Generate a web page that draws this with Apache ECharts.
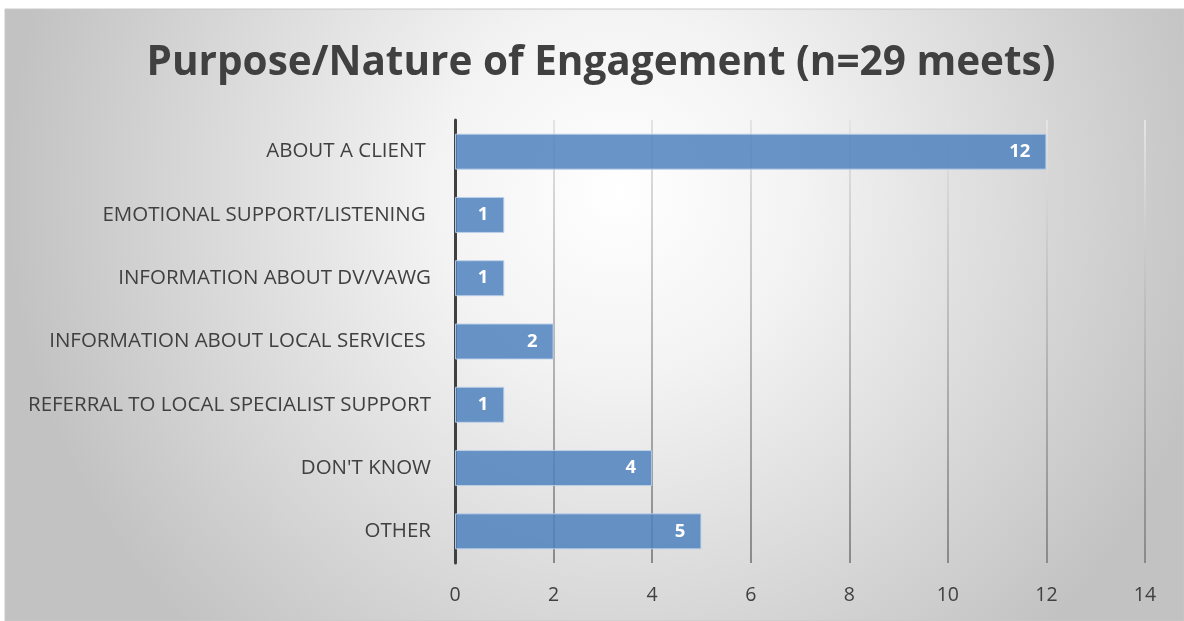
<!DOCTYPE html>
<html>
<head>
<meta charset="utf-8">
<script src="https://cdn.jsdelivr.net/npm/echarts@6/dist/echarts.min.js"></script>
<style>
  html, body { margin: 0; padding: 0; background: #ffffff; }
  #chart { width: 1184px; height: 621px; }
</style>
</head>
<body>
<div id="chart"></div>
<script>
// Engagement purposes, listed top to bottom
const categories = [
  'ABOUT A CLIENT ',
  'EMOTIONAL SUPPORT/LISTENING ',
  'INFORMATION ABOUT DV/VAWG',
  'INFORMATION ABOUT LOCAL SERVICES ',
  'REFERRAL TO LOCAL SPECIALIST SUPPORT',
  "DON'T KNOW",
  'OTHER'
];
// Number of meets for each purpose
const meets = [12, 1, 1, 2, 1, 4, 5];
const titleText = 'Purpose/Nature of Engagement (n=29 meets)';

const FONT = '"Open Sans", "Liberation Sans", sans-serif';
const chart = echarts.init(document.getElementById('chart'), null, { renderer: 'canvas' });

chart.setOption({
  backgroundColor: '#ffffff',
  animation: false,
  graphic: [{
    type: 'rect',
    z: -10,
    silent: true,
    shape: { x: 5, y: 9, width: 1179, height: 612 },
    style: {
      fill: {
        type: 'radial', x: 0.52, y: 0.3, r: 1.0,
        colorStops: [
          { offset: 0, color: '#ffffff' },
          { offset: 0.3, color: '#f3f3f3' },
          { offset: 1, color: '#c2c2c2' }
        ]
      },
      stroke: '#c8c8c8',
      lineWidth: 1
    }
  }],
  title: {
    text: titleText,
    left: 596,
    textAlign: 'center',
    top: 38,
    textStyle: { fontFamily: FONT, fontWeight: 'bold', fontSize: 40.5, color: '#404040' }
  },
  grid: { left: 455, right: 39, top: 120, bottom: 58, containLabel: false },
  xAxis: {
    type: 'value',
    min: 0, max: 14, interval: 2,
    axisLine: { show: false },
    axisTick: { show: false },
    axisLabel: { fontFamily: FONT, fontSize: 19.5, color: '#404040', margin: 22 },
    splitLine: {
      show: true,
      lineStyle: {
        width: 2,
        color: {
          type: 'linear', global: true, x: 0, y: 120, x2: 0, y2: 563,
          colorStops: [
            { offset: 0, color: '#e4e4e4' },
            { offset: 1, color: '#8a8a8a' }
          ]
        }
      }
    }
  },
  yAxis: {
    type: 'category',
    inverse: true,
    data: categories,
    axisLine: { show: true, lineStyle: { color: '#404040', width: 3 } },
    axisTick: { show: false },
    axisLabel: { fontFamily: FONT, fontSize: 20.5, color: '#404040', margin: 24 }
  },
  series: [{
    type: 'bar',
    data: meets,
    barWidth: 36,
    itemStyle: {
      color: 'rgba(79,129,189,0.85)',
      borderColor: 'rgba(190,210,235,0.9)',
      borderWidth: 1
    },
    label: {
      show: true,
      position: 'insideRight',
      distance: 16,
      color: '#ffffff',
      fontFamily: FONT,
      fontWeight: 'bold',
      fontSize: 18.5
    }
  }]
});
</script>
</body>
</html>
